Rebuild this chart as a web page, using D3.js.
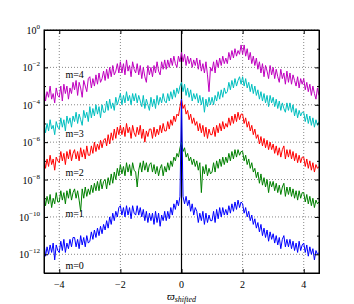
<!DOCTYPE html>
<html>
<head>
<meta charset="utf-8">
<script src="https://cdn.jsdelivr.net/npm/d3@7"></script>
<style>
  body { margin: 0; background: #fff; }
  text { font-family: "Liberation Serif", "DejaVu Serif", serif; }
</style>
</head>
<body>
<div id="chart"></div>
<script>
// sample grid of the spectra (shifted frequency)
const xStart = -4.5, xStep = 0.05;

// log10 of the spectral power, one value per sample
const m4 = [
  -3.1,-3.8,-3.3,-3.6,-3.0,-3.7,-3.4,-3.9,-3.1,-3.5,
  -3.6,-3.0,-3.8,-2.9,-3.4,-3.0,-3.7,-3.1,-3.4,-2.8,
  -3.2,-2.7,-3.5,-2.8,-3.1,-3.6,-2.7,-3.0,-3.3,-2.6,
  -2.5,-3.1,-2.6,-3.0,-2.4,-2.9,-2.3,-2.8,-2.6,-2.2,
  -2.7,-2.1,-2.6,-2.0,-2.5,-1.9,-2.4,-2.2,-1.8,-2.3,
  -1.7,-2.3,-1.8,-2.4,-1.6,-2.2,-1.9,-2.5,-1.7,-2.1,
  -2.3,-1.8,-2.4,-1.9,-2.6,-2.0,-2.5,-2.8,-1.9,-2.4,
  -2.0,-2.5,-1.9,-2.3,-1.7,-2.2,-2.4,-1.7,-2.1,-1.6,
  -2.1,-1.6,-2.0,-1.5,-1.9,-1.4,-1.8,-2.0,-1.4,-1.7,
  -1.2,-1.7,-1.3,-1.9,-1.4,-1.8,-1.5,-2.0,-1.6,-1.9,
  -1.5,-2.1,-1.6,-2.2,-1.8,-2.3,-1.7,-2.4,-3.3,-2.0,
  -2.2,-1.7,-2.3,-1.6,-2.0,-1.5,-1.9,-1.4,-1.8,-1.5,
  -1.8,-1.2,-1.6,-1.1,-1.5,-1.0,-1.4,-1.1,-1.3,-0.8,
  -1.3,-0.8,-1.4,-1.0,-1.6,-1.2,-1.8,-1.4,-1.9,-1.5,
  -2.1,-1.7,-2.3,-1.8,-2.5,-1.9,-2.2,-2.6,-1.9,-2.4,
  -2.0,-2.6,-2.1,-2.5,-2.8,-2.1,-2.6,-2.3,-2.9,-2.2,
  -2.8,-2.3,-2.9,-2.4,-2.7,-3.0,-2.5,-3.1,-2.6,-2.9,
  -2.6,-3.2,-2.8,-3.3,-2.9,-3.5,-3.0,-3.4,-3.7,-3.1,
  -3.5
];
const m3 = [
  -4.9,-5.5,-5.0,-5.4,-4.8,-5.3,-5.1,-5.6,-4.9,-5.2,
  -5.3,-4.7,-5.2,-4.8,-5.4,-4.6,-5.0,-4.7,-5.2,-4.6,
  -4.9,-4.4,-5.0,-4.5,-4.8,-5.1,-4.3,-4.7,-4.4,-4.9,
  -4.1,-4.7,-4.2,-4.6,-4.0,-4.5,-4.1,-4.7,-4.0,-4.4,
  -4.4,-3.8,-4.3,-3.7,-4.2,-3.9,-4.3,-3.6,-4.0,-3.7,
  -3.4,-4.0,-3.5,-3.9,-3.3,-3.8,-3.5,-4.0,-3.4,-3.8,
  -3.4,-3.9,-3.5,-3.8,-4.1,-3.5,-4.2,-3.7,-4.0,-4.3,
  -3.6,-4.1,-3.7,-4.2,-3.5,-4.0,-3.6,-3.9,-3.4,-3.8,
  -3.9,-3.4,-3.8,-3.3,-3.7,-3.2,-3.6,-3.1,-3.4,-3.0,
  -2.8,-3.3,-2.9,-3.5,-3.1,-3.6,-3.2,-3.8,-3.4,-3.7,
  -3.4,-3.9,-3.5,-4.0,-3.6,-4.4,-3.7,-4.1,-3.6,-4.0,
  -3.6,-4.0,-3.5,-3.8,-3.3,-3.7,-3.2,-3.6,-3.1,-3.4,
  -3.3,-2.8,-3.2,-2.7,-3.1,-2.6,-3.0,-2.7,-2.5,-2.9,
  -2.5,-3.0,-2.6,-3.1,-2.8,-3.3,-2.9,-3.4,-3.0,-3.5,
  -3.2,-3.7,-3.3,-3.8,-3.4,-3.9,-3.5,-4.1,-3.5,-3.9,
  -3.6,-4.1,-3.7,-4.2,-3.8,-4.3,-3.9,-4.2,-4.4,-3.9,
  -4.3,-3.9,-4.4,-4.0,-4.6,-4.2,-4.7,-4.3,-4.6,-4.4,
  -4.4,-4.9,-4.5,-5.0,-4.6,-5.1,-4.7,-5.2,-4.8,-5.1,
  -4.9
];
const m2 = [
  -6.8,-7.4,-6.9,-7.3,-6.7,-7.2,-6.9,-7.5,-6.8,-7.0,
  -7.1,-6.5,-7.0,-6.6,-7.2,-6.5,-6.9,-6.4,-7.0,-6.6,
  -6.4,-6.9,-6.5,-7.0,-6.3,-6.8,-6.4,-6.9,-6.2,-6.7,
  -6.7,-6.2,-6.6,-6.0,-6.5,-6.1,-6.4,-5.9,-6.3,-5.9,
  -5.8,-6.2,-5.6,-6.1,-5.5,-5.9,-5.3,-5.8,-5.2,-5.6,
  -5.1,-5.6,-5.2,-5.7,-5.0,-5.5,-5.2,-5.8,-5.1,-5.5,
  -5.7,-5.2,-5.6,-5.1,-5.8,-5.3,-6.0,-5.4,-5.7,-5.3,
  -5.3,-5.8,-5.2,-5.7,-5.3,-5.6,-5.1,-5.5,-5.0,-5.4,
  -5.4,-4.9,-5.3,-4.8,-5.1,-4.6,-4.9,-4.5,-4.6,-4.1,
  -3.7,-4.2,-4.0,-4.5,-4.3,-4.8,-4.5,-5.0,-4.7,-5.1,
  -4.9,-5.4,-5.0,-5.5,-5.1,-5.7,-5.2,-5.8,-5.3,-5.6,
  -5.6,-5.2,-5.7,-5.1,-5.5,-5.0,-5.4,-4.9,-5.3,-5.0,
  -5.2,-4.7,-5.1,-4.6,-5.0,-4.5,-4.9,-4.4,-4.8,-4.5,
  -4.5,-5.0,-4.7,-5.2,-4.9,-5.4,-5.1,-5.6,-5.3,-5.8,
  -5.6,-6.1,-5.7,-6.2,-5.8,-6.3,-5.9,-6.4,-6.0,-6.4,
  -6.1,-6.6,-6.2,-6.7,-6.3,-6.8,-6.4,-6.2,-6.9,-6.4,
  -6.8,-6.4,-6.9,-6.5,-7.0,-6.6,-7.1,-6.7,-7.1,-6.8,
  -6.8,-7.3,-6.9,-7.4,-7.0,-7.5,-7.1,-7.6,-7.2,-7.4,
  -7.3
];
const m1 = [
  -8.8,-9.4,-8.9,-9.3,-8.8,-9.5,-9.0,-9.3,-8.7,-9.2,
  -9.2,-8.6,-9.1,-8.7,-9.3,-8.6,-9.0,-8.5,-9.1,-8.7,
  -8.5,-9.0,-8.6,-9.1,-9.7,-8.5,-9.0,-8.4,-8.9,-8.5,
  -8.8,-8.3,-8.7,-8.2,-8.6,-8.1,-8.6,-8.0,-8.5,-8.1,
  -8.0,-8.5,-7.9,-8.3,-7.7,-8.2,-7.6,-8.0,-7.4,-7.8,
  -7.2,-7.7,-7.3,-7.8,-7.1,-7.6,-7.2,-7.8,-7.1,-7.5,
  -7.6,-8.4,-7.5,-7.1,-7.6,-7.0,-7.5,-7.1,-7.6,-7.2,
  -7.1,-7.6,-7.2,-7.7,-7.3,-7.8,-7.4,-7.2,-7.8,-7.3,
  -7.6,-7.1,-7.5,-7.0,-7.3,-6.8,-7.0,-6.6,-6.8,-6.3,
  -6.0,-6.5,-6.3,-6.8,-6.6,-7.0,-6.8,-7.2,-6.9,-7.3,
  -7.0,-7.5,-7.1,-8.7,-7.3,-7.7,-7.2,-7.8,-7.4,-7.7,
  -7.6,-7.1,-7.6,-7.0,-7.4,-6.9,-7.3,-6.8,-7.2,-6.8,
  -7.1,-6.6,-7.0,-6.5,-6.9,-6.4,-6.8,-6.4,-6.7,-6.5,
  -6.5,-7.0,-6.7,-7.2,-6.9,-7.4,-7.1,-7.6,-7.4,-7.9,
  -7.6,-8.2,-7.7,-8.3,-7.9,-8.4,-8.0,-8.7,-8.1,-8.4,
  -8.1,-8.6,-8.2,-8.7,-8.3,-8.8,-8.4,-8.2,-8.9,-8.4,
  -8.8,-8.4,-8.9,-8.5,-9.0,-8.6,-9.1,-8.6,-9.0,-8.7,
  -8.7,-9.2,-8.8,-9.3,-8.9,-9.4,-9.0,-9.5,-9.1,-9.3,
  -9.2
];
const m0 = [
  -11.4,-12.1,-11.6,-12.0,-11.5,-11.9,-11.4,-12.3,-11.5,-11.8,
  -11.9,-11.3,-11.8,-11.2,-11.9,-11.4,-11.7,-11.2,-11.6,-11.1,
  -11.1,-11.6,-11.2,-11.7,-11.0,-11.5,-11.1,-11.6,-11.0,-11.4,
  -11.3,-10.8,-11.2,-10.7,-11.1,-10.6,-11.0,-10.5,-10.9,-10.4,
  -10.7,-10.2,-10.6,-10.0,-10.4,-9.8,-10.2,-9.7,-10.0,-9.5,
  -9.4,-9.9,-9.5,-10.0,-9.4,-9.9,-9.5,-10.1,-9.4,-9.8,
  -9.9,-9.4,-9.9,-9.5,-10.0,-9.6,-10.2,-9.7,-10.3,-9.8,
  -10.2,-9.8,-10.4,-9.7,-10.3,-9.8,-10.5,-9.9,-10.2,-9.7,
  -10.2,-9.7,-10.1,-9.5,-9.9,-9.3,-9.6,-9.1,-9.4,-8.9,
  -3.7,-8.9,-9.3,-8.9,-9.4,-9.1,-9.7,-9.3,-9.9,-9.5,
  -9.7,-10.3,-9.8,-10.2,-9.7,-10.4,-9.8,-10.3,-9.9,-10.2,
  -10.2,-9.7,-10.3,-9.6,-10.1,-9.5,-10.0,-9.5,-9.9,-9.6,
  -9.9,-9.4,-9.8,-9.3,-9.7,-9.2,-9.6,-9.1,-9.5,-9.2,
  -9.3,-9.8,-9.5,-10.0,-9.7,-10.2,-9.9,-10.4,-10.1,-10.6,
  -10.3,-10.8,-10.4,-11.0,-10.6,-11.1,-10.7,-11.3,-10.8,-11.2,
  -10.9,-11.4,-11.0,-11.5,-11.1,-11.7,-11.2,-11.0,-11.6,-11.2,
  -11.6,-11.2,-11.7,-11.3,-11.8,-11.4,-11.9,-11.3,-11.8,-11.5,
  -11.4,-11.9,-11.5,-12.1,-11.6,-12.0,-11.7,-12.3,-11.8,-12.0,
  -11.9
];

const labels = ["m=4", "m=3", "m=2", "m=1", "m=0"];
const labelLog = [-2.4, -5.55, -7.6, -9.8, -12.6];   // where each label sits
const xTicks = [-4, -2, 0, 2, 4];
const yMajor = [0, -2, -4, -6, -8, -10, -12];
const yMinor = [-1, -3, -5, -7, -9, -11];

const colors = ["#bf00bf", "#00bfbf", "#ff0000", "#008000", "#0000ff"];
const seriesList = [m4, m3, m2, m1, m0];

const W = 354, H = 304;
const margin = { left: 44, top: 30, right: 35, bottom: 31 },
  width = W - margin.left - margin.right,
  height = H - margin.top - margin.bottom;

const svg = d3.select("#chart").append("svg")
  .attr("width", W).attr("height", H);
const g = svg.append("g")
  .attr("transform", "translate(" + margin.left + "," + margin.top + ")");

const x = d3.scaleLinear().domain([-4.5, 4.5]).range([0, width]);
const y = d3.scaleLog().domain([1e-13, 1]).range([height, 0]);

//grid
g.selectAll(".vgrid").data(xTicks.filter(d => d !== 0)).enter().append("line")
  .attr("x1", d => x(d)).attr("x2", d => x(d)).attr("y1", 0).attr("y2", height)
  .attr("stroke", "#888").attr("stroke-dasharray", "1,2");
g.selectAll(".hgrid").data(yMajor).enter().append("line")
  .attr("x1", 0).attr("x2", width)
  .attr("y1", d => y(Math.pow(10, d))).attr("y2", d => y(Math.pow(10, d)))
  .attr("stroke", "#888").attr("stroke-dasharray", "1,2");

//vertical line at zero
g.append("line")
  .attr("x1", x(0)).attr("x2", x(0)).attr("y1", 0).attr("y2", height)
  .attr("stroke", "#000").attr("stroke-width", 1.2);

//spectra
const clip = svg.append("clipPath").attr("id", "clip").append("rect")
  .attr("width", width).attr("height", height);
const line = d3.line()
  .x((d, i) => x(xStart + i * xStep))
  .y(d => y(Math.pow(10, d)));
seriesList.forEach((vals, k) => {
  g.append("path")
    .datum(vals)
    .attr("clip-path", "url(#clip)")
    .attr("d", line)
    .attr("fill", "none")
    .attr("stroke", colors[k])
    .attr("stroke-width", 1);
});

//labels
g.selectAll(".mlabel").data(labels).enter().append("text")
  .attr("x", x(-3.8))
  .attr("y", (d, i) => y(Math.pow(10, labelLog[i])) + 3.5)
  .attr("font-size", 10)
  .text(d => d);

//axes, ticks pointing inward
const fmt = () => "";
g.append("g").attr("transform", "translate(0," + height + ")")
  .call(d3.axisBottom(x).tickValues(xTicks).tickSize(-4).tickFormat(fmt));
g.append("g").call(d3.axisTop(x).tickValues(xTicks).tickSize(-4).tickFormat(fmt));
const yvals = yMajor.map(d => Math.pow(10, d));
const yminv = yMinor.map(d => Math.pow(10, d));
g.append("g").call(d3.axisLeft(y).tickValues(yvals).tickSize(-4).tickFormat(fmt));
g.append("g").call(d3.axisLeft(y).tickValues(yminv).tickSize(-2).tickFormat(fmt));
g.append("g").attr("transform", "translate(" + width + ",0)")
  .call(d3.axisRight(y).tickValues(yvals).tickSize(-4).tickFormat(fmt));
g.append("g").attr("transform", "translate(" + width + ",0)")
  .call(d3.axisRight(y).tickValues(yminv).tickSize(-2).tickFormat(fmt));
g.selectAll(".domain").attr("stroke", "#000");
g.selectAll(".tick line").attr("stroke", "#000");

g.append("rect").attr("width", width).attr("height", height)
  .attr("fill", "none").attr("stroke", "#000").attr("stroke-width", 1);

//tick labels
g.selectAll(".xlab").data(xTicks).enter().append("text")
  .attr("x", d => x(d)).attr("y", height + 15)
  .attr("text-anchor", "middle").attr("font-size", 10)
  .text(d => (d < 0 ? "\u2212" + Math.abs(d) : d));

const ylab = g.selectAll(".ylab").data(yMajor).enter().append("text")
  .attr("x", -4).attr("y", d => y(Math.pow(10, d)) + 4)
  .attr("text-anchor", "end").attr("font-size", 10);
ylab.append("tspan").text("10");
ylab.append("tspan").attr("dy", -5).attr("font-size", 7)
  .text(d => (d < 0 ? "\u2212" + Math.abs(d) : d));

//x axis title
const xt = g.append("text")
  .attr("x", x(0)).attr("y", height + 27)
  .attr("text-anchor", "middle").attr("font-style", "italic").attr("font-size", 11);
xt.append("tspan").text("\u03d6");
xt.append("tspan").attr("dy", 2).attr("font-size", 8).text("shifted");
</script>
</body>
</html>
